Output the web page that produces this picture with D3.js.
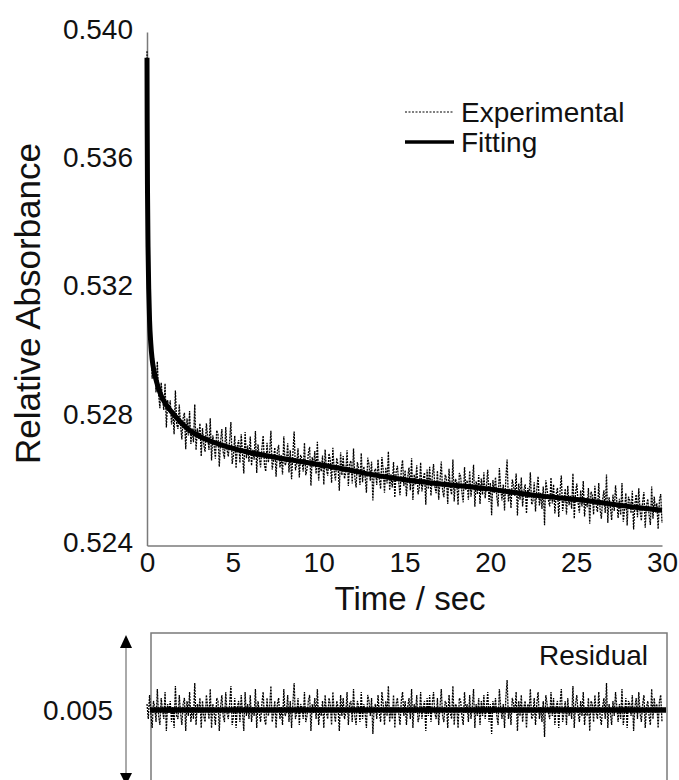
<!DOCTYPE html>
<html>
<head>
<meta charset="utf-8">
<script src="https://cdn.jsdelivr.net/npm/d3@7.9.0/dist/d3.min.js"></script>
<style>
  html, body { margin: 0; padding: 0; background: #fff; }
  svg { display: block; font-family: "Liberation Sans", Arial, sans-serif; }
</style>
</head>
<body>
<svg id="chart" width="679" height="780"></svg>
<script>
// fitted curve (time in s, absorbance)
const fitTime = [0, 0.01, 0.03, 0.06, 0.1, 0.15, 0.22, 0.3, 0.42, 0.56, 0.8, 1.1, 1.53, 2.0, 2.5,
  3.3, 4.4, 5.8, 7.35, 8.8, 10.25, 11.7, 13.2, 15.1, 16.7, 19.6, 22.5, 25.4, 28.3, 30];
const fitValue = [0.5392, 0.5372, 0.5350, 0.5333, 0.5320, 0.5310, 0.5303, 0.5298, 0.5294, 0.5291,
  0.5287, 0.5284, 0.52810, 0.52782, 0.52758, 0.52734, 0.52712, 0.52692, 0.52676, 0.52663,
  0.52650, 0.52636, 0.52620, 0.52604, 0.52594, 0.52578, 0.52557, 0.52541, 0.52520, 0.52510];

// residual (experimental - fitting), in units of 1e-4, evenly sampled over 0..30 s
const residual = [
  2, -3, 5, -1, -6, 3, 1, -4, 7, -2, -5, 4, 0, -3, 6, -7, 2, -1, 3, -4,
  1, -6, 8, -2, -3, 5, -1, -5, 2, 4, -7, 3, -2, 6, -4, 1, -3, 9, -5, 2,
  -1, 4, -6, 3, -2, -4, 5, 1, -3, 7, -6, 2, -1, -5, 4, 3, -7, 1, 5, -2,
  -4, 6, -1, -3, 2, 8, -5, -2, 4, -6, 1, 3, -4, 5, -1, -7, 6, -2, 2, -3,
  5, -4, 1, -2, 7, -6, 3, -1, -4, 2, 6, -3, -5, 4, -2, 1, 8, -4, -1, 3,
  -6, 2, 4, -3, 1, -5, 7, -2, -1, 5, -4, 3, -6, 2, 9, -3, -1, 4, -5, 2,
  1, -3, 6, -4, -2, 3, 5, -7, 2, -1, 4, -3, 7, -5, 1, -2, 3, -6, 5, -1,
  -3, 4, 2, -5, 6, -1, -4, 3, 1, -7, 5, -2, 4, -3, -1, 6, -5, 2, 3, -4,
  7, -2, -5, 3, 1, -4, 6, -3, 2, -1, -6, 5, 3, -2, 4, -8, 1, 2, -3, 5,
  -1, -4, 6, 2, -5, 3, -2, 8, -4, 1, -3, 5, -6, 2, 4, -1, -5, 3, 6, -2,
  3, -5, 1, 4, -3, 7, -6, 2, -1, 5, -4, -2, 6, -3, 1, 3, -7, 4, -2, 5,
  -4, 2, 6, -1, -3, 4, -5, 1, 7, -2, -4, 3, 2, -6, 5, -1, -3, 8, -5, 2,
  1, -6, 4, 3, -2, -5, 6, -1, 2, -4, 5, -3, 1, 7, -6, 2, -2, 4, -5, 3,
  -2, 5, -3, 1, 6, -4, 2, -8, 3, -1, 4, -2, -5, 7, 1, -3, 2, -6, 4, 10,
  -3, 1, -5, 4, 2, -1, 6, -7, 3, -2, 5, -4, 1, 3, -6, 2, -1, 7, -3, -2,
  4, -5, 2, 6, -3, 1, -4, 3, -9, 5, 2, -1, -3, 6, -2, 4, -5, 1, 3, -6,
  2, 7, -4, -1, 3, -5, 4, -2, 1, -3, 8, -6, 2, 5, -1, -4, 3, -2, 6, -5,
  1, -2, 4, -7, 3, 2, -4, 5, -1, -3, 6, -2, -5, 1, 4, -3, 9, -6, 2, -1,
  -5, 3, -2, 6, 1, -4, 2, -3, 7, -5, -1, 4, -6, 3, 2, -2, 5, -7, 1, 4,
  -3, 6, -1, -4, 2, 5, -6, 1, 3, -2, -5, 7, -3, 4, -1, 2, -6, 3, 5, -4
];

const xTicks = [0, 5, 10, 15, 20, 25, 30];
const yTicks = [0.524, 0.528, 0.532, 0.536, 0.540];
const legendLabels = ["Experimental", "Fitting"];

const svg = d3.select("#chart");
const axisColor = "#7a7a7a";

const x = d3.scaleLinear().domain([0, 30]).range([147, 662]);
const y = d3.scaleLinear().domain([0.524, 0.540]).range([545.5, 32]);
const yRes = d3.scaleLinear().domain([-0.0025, 0.0025]).range([785, 635]);

// fitted value at any time, through the fit knots
const fitAt = d3.scaleLinear().domain(fitTime).range(fitValue);
const resTime = residual.map((d, i) => i * 30 / (residual.length - 1));
const expData = residual.map((r, i) => ({ t: resTime[i], v: fitAt(resTime[i]) + r * 1e-4 }));
const fitData = fitTime.map((t, i) => ({ t: t, v: fitValue[i] }));

// axes
const yAxis = svg.append("g")
  .attr("transform", `translate(${x(0)},0)`)
  .call(d3.axisLeft(y).tickValues(yTicks).tickFormat(d3.format(".3f")).tickSize(0).tickPadding(14));
const xAxis = svg.append("g")
  .attr("transform", `translate(0,${y(0.524)})`)
  .call(d3.axisBottom(x).tickValues(xTicks).tickSize(0).tickPadding(7));

[yAxis, xAxis].forEach(g => {
  g.select(".domain").attr("stroke", axisColor).attr("stroke-width", 1.5);
  g.selectAll("text").attr("font-size", 28).attr("fill", "#111").attr("font-family", "Liberation Sans, Arial, sans-serif");
});
yAxis.selectAll("text").attr("dy", "0.22em");

svg.append("text")
  .attr("transform", `translate(40,${(32 + 545) / 2 + 15}) rotate(-90)`)
  .attr("text-anchor", "middle")
  .attr("font-size", 35)
  .attr("fill", "#111")
  .text("Relative Absorbance");

svg.append("text")
  .attr("x", 410)
  .attr("y", 610)
  .attr("text-anchor", "middle")
  .attr("font-size", 33)
  .attr("fill", "#111")
  .text("Time / sec");

// traces
const line = d3.line().x(d => x(d.t)).y(d => y(d.v));
svg.append("path")
  .datum(expData)
  .attr("d", line)
  .attr("fill", "none")
  .attr("stroke", "#000")
  .attr("stroke-width", 1.3)
  .attr("stroke-dasharray", "2,1");

svg.append("path")
  .datum(fitData)
  .attr("d", line.curve(d3.curveMonotoneX))
  .attr("fill", "none")
  .attr("stroke", "#000")
  .attr("stroke-width", 5);

// legend
const legend = svg.append("g");
legendLabels.forEach((label, i) => {
  const ly = 112 + i * 30;
  legend.append("line")
    .attr("x1", 405).attr("x2", 454).attr("y1", ly).attr("y2", ly)
    .attr("stroke", "#000")
    .attr("stroke-width", i === 0 ? 1.2 : 3.5)
    .attr("stroke-dasharray", i === 0 ? "2,1.5" : null);
  legend.append("text")
    .attr("x", 461).attr("y", ly + 10)
    .attr("font-size", 28)
    .attr("fill", "#111")
    .text(label);
});

// residual panel
const res = svg.append("g");
res.append("rect")
  .attr("x", 151).attr("y", 633).attr("width", 516).attr("height", 200)
  .attr("fill", "none").attr("stroke", axisColor).attr("stroke-width", 1.5);

const resLine = d3.line().x((d, i) => x(resTime[i])).y(d => yRes(d * 1e-4));
res.append("path")
  .datum(residual)
  .attr("d", resLine)
  .attr("fill", "none")
  .attr("stroke", "#000")
  .attr("stroke-width", 1.3)
  .attr("stroke-dasharray", "2,1");
res.append("line")
  .attr("x1", x(0) + 3).attr("x2", x(30) + 4)
  .attr("y1", yRes(0)).attr("y2", yRes(0))
  .attr("stroke", "#000").attr("stroke-width", 5.5);

res.append("text")
  .attr("x", 648).attr("y", 665)
  .attr("text-anchor", "end")
  .attr("font-size", 28)
  .attr("fill", "#111")
  .text("Residual");

// scale arrow for the residual
const ax = 126;
res.append("line")
  .attr("x1", ax).attr("x2", ax).attr("y1", 646).attr("y2", 776)
  .attr("stroke", "#aaa").attr("stroke-width", 2);
res.append("path")
  .attr("d", `M${ax},${yRes(0.0025)}L${ax - 6},648L${ax + 6},648Z`)
  .attr("fill", "#000");
res.append("path")
  .attr("d", `M${ax},${yRes(-0.0025)}L${ax - 6},773L${ax + 6},773Z`)
  .attr("fill", "#000");
res.append("text")
  .attr("x", 113).attr("y", 720)
  .attr("text-anchor", "end")
  .attr("font-size", 28)
  .attr("fill", "#111")
  .text("0.005");
</script>
</body>
</html>
